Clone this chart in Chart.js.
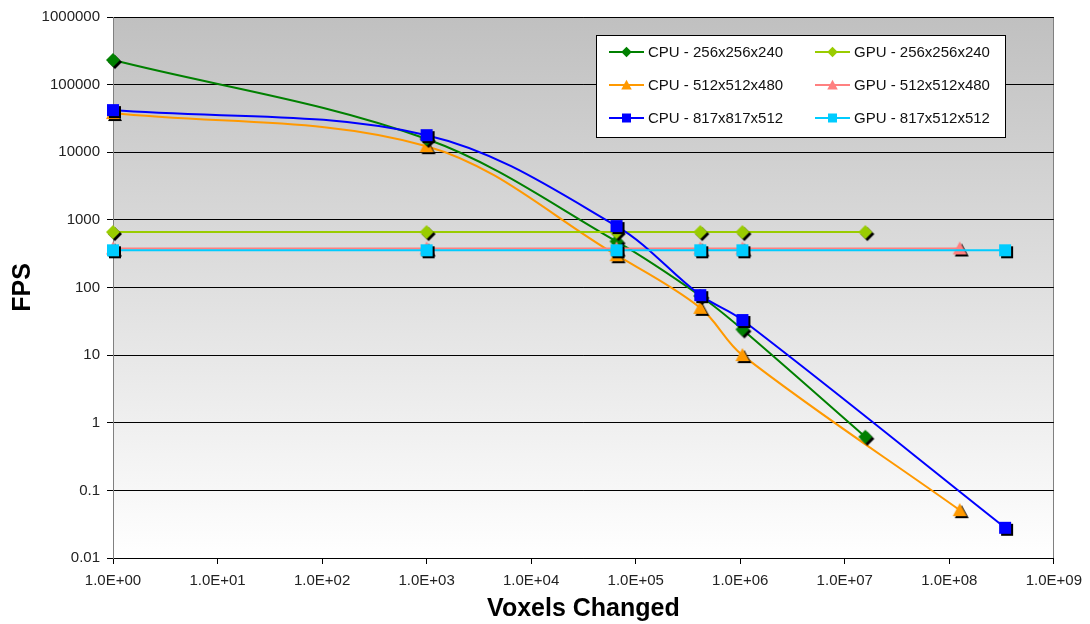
<!DOCTYPE html>
<html>
<head>
<meta charset="utf-8">
<script src="https://cdn.jsdelivr.net/npm/chart.js@4.4.1/dist/chart.umd.min.js"></script>
<style>
  html, body { margin: 0; padding: 0; background: #fff; }
  #wrap { width: 1090px; height: 624px; }
</style>
</head>
<body>
<div id="wrap"><canvas id="fpsChart"></canvas></div>
<script>
// axis ticks
const xTicks = [1, 1e1, 1e2, 1e3, 1e4, 1e5, 1e6, 1e7, 1e8, 1e9];
const xTickLabels = ["1.0E+00", "1.0E+01", "1.0E+02", "1.0E+03", "1.0E+04",
  "1.0E+05", "1.0E+06", "1.0E+07", "1.0E+08", "1.0E+09"];
const yTicks = [0.01, 0.1, 1, 10, 100, 1000, 10000, 100000, 1000000];
const yTickLabels = ["0.01", "0.1", "1", "10", "100", "1000", "10000", "100000", "1000000"];

// voxels changed (x) per volume size
const voxels256 = [1, 1000, 65536, 415000, 1048576, 15728640];
const voxels512 = [1, 1000, 65536, 415000, 1048576, 125829120];
const voxels817 = [1, 1000, 65536, 415000, 1048576, 341754368];

// FPS values
const cpu256 = [231000, 15700, 480, 75, 24, 0.62];
const cpu512 = [38000, 12300, 300, 50, 10, 0.051];
const cpu817 = [42000, 17900, 810, 77, 33, 0.028];
const gpu256 = [660, 660, 660, 660, 660, 660];
const gpu512 = [378, 378, 378, 378, 378, 378];
const gpu817 = [355, 355, 355, 355, 355, 355];

const seriesLabels = ["CPU - 256x256x240", "GPU - 256x256x240", "CPU - 512x512x480",
  "GPU - 512x512x480", "CPU - 817x817x512", "GPU - 817x512x512"];

function drawShape(ctx, shape, cx, cy, s) {
  ctx.beginPath();
  if (shape === "diamond") {
    ctx.moveTo(cx, cy - 7 * s);
    ctx.lineTo(cx + 7 * s, cy);
    ctx.lineTo(cx, cy + 7 * s);
    ctx.lineTo(cx - 7 * s, cy);
  } else if (shape === "triangle") {
    ctx.moveTo(cx, cy - 7 * s);
    ctx.lineTo(cx + 7 * s, cy + 6 * s);
    ctx.lineTo(cx - 7 * s, cy + 6 * s);
  } else {
    ctx.rect(cx - 6 * s, cy - 6 * s, 12 * s, 12 * s);
  }
  ctx.closePath();
  ctx.fill();
}

// marker with the little black drop shadow
function marker(shape, color) {
  const c = document.createElement("canvas");
  c.width = 26;
  c.height = 26;
  const ctx = c.getContext("2d");
  ctx.fillStyle = "#000";
  drawShape(ctx, shape, 15, 15, 1);
  ctx.fillStyle = color;
  drawShape(ctx, shape, 13, 13, 1);
  return c;
}

function pts(xs, ys) {
  return xs.map((x, i) => ({ x: x, y: ys[i] }));
}

function series(label, xs, ys, color, shape, order) {
  return {
    label: label,
    data: pts(xs, ys),
    borderColor: color,
    backgroundColor: color,
    borderWidth: 2,
    tension: 0.35,
    pointStyle: marker(shape, color),
    shape: shape,
    clip: false,
    order: order,
  };
}

const plotBackground = {
  id: "plotBackground",
  beforeDraw(chart) {
    const { ctx, chartArea: a } = chart;
    const g = ctx.createLinearGradient(0, a.top, 0, a.bottom);
    g.addColorStop(0, "#c0c0c0");
    g.addColorStop(1, "#ffffff");
    ctx.save();
    ctx.fillStyle = g;
    ctx.fillRect(a.left, a.top, a.right - a.left, a.bottom - a.top);
    ctx.strokeStyle = "#808080";
    ctx.lineWidth = 1;
    ctx.beginPath();
    ctx.moveTo(Math.round(a.right) - 0.5, a.top);
    ctx.lineTo(Math.round(a.right) - 0.5, a.bottom);
    ctx.stroke();
    ctx.restore();
  },
};

const boxLegend = {
  id: "boxLegend",
  afterDraw(chart) {
    const { ctx, chartArea: a } = chart;
    const left = Math.round(a.right) - 458;
    const top = Math.round(a.top) + 18;
    ctx.save();
    ctx.fillStyle = "#fff";
    ctx.fillRect(left, top, 409, 102);
    ctx.strokeStyle = "#000";
    ctx.lineWidth = 1;
    ctx.strokeRect(left + 0.5, top + 0.5, 409, 102);
    ctx.font = "15px 'Liberation Sans', Arial, sans-serif";
    ctx.textBaseline = "middle";
    const rows = [17, 50, 83];
    const cols = [13, 219];
    chart.data.datasets.forEach((ds, i) => {
      const x = left + cols[i % 2];
      const y = top + rows[Math.floor(i / 2)];
      ctx.strokeStyle = ds.borderColor;
      ctx.lineWidth = 2;
      ctx.beginPath();
      ctx.moveTo(x, y);
      ctx.lineTo(x + 35, y);
      ctx.stroke();
      ctx.fillStyle = ds.borderColor;
      drawShape(ctx, ds.shape, x + 17.5, y, 0.75);
      ctx.fillStyle = "#111";
      ctx.fillText(ds.label, x + 39, y + 1);
    });
    ctx.restore();
  },
};

const font = { family: "'Liberation Sans', Arial, sans-serif", size: 15 };

new Chart(document.getElementById("fpsChart"), {
  type: "line",
  data: {
    datasets: [
      series(seriesLabels[0], voxels256, cpu256, "#008000", "diamond", 4),
      series(seriesLabels[1], voxels256, gpu256, "#99cc00", "diamond", 3),
      series(seriesLabels[2], voxels512, cpu512, "#ff9900", "triangle", 5),
      series(seriesLabels[3], voxels512, gpu512, "#ff8080", "triangle", 2),
      series(seriesLabels[4], voxels817, cpu817, "#0000ff", "square", 1),
      series(seriesLabels[5], voxels817, gpu817, "#00ccff", "square", 0),
    ],
  },
  options: {
    responsive: true,
    maintainAspectRatio: false,
    animation: false,
    layout: { padding: { left: 0, top: 17, right: 35, bottom: 0 } },
    plugins: { legend: { display: false }, tooltip: { enabled: false } },
    scales: {
      x: {
        type: "logarithmic",
        min: 1,
        max: 1e9,
        afterBuildTicks: (s) => { s.ticks = xTicks.map((v) => ({ value: v })); },
        afterFit: (s) => { s.height = 66; },
        ticks: {
          font: font,
          color: "#222",
          padding: 8,
          maxRotation: 0,
          autoSkip: false,
          callback: (v, i) => xTickLabels[i],
        },
        grid: { drawOnChartArea: false, tickLength: 6, tickColor: "#000" },
        border: { color: "#000" },
        title: {
          display: true,
          text: "Voxels Changed",
          font: { family: font.family, size: 25, weight: "bold" },
          color: "#000",
          padding: { top: 0, bottom: 0 },
        },
      },
      y: {
        type: "logarithmic",
        min: 0.01,
        max: 1000000,
        afterBuildTicks: (s) => { s.ticks = yTicks.map((v) => ({ value: v })); },
        afterFit: (s) => { s.width = 113; },
        ticks: {
          font: font,
          color: "#222",
          padding: 7,
          autoSkip: false,
          callback: (v, i) => yTickLabels[i],
        },
        grid: { color: "#000", tickLength: 6, tickColor: "#000" },
        border: { color: "#808080" },
        title: {
          display: true,
          text: "FPS",
          font: { family: font.family, size: 25, weight: "bold" },
          color: "#000",
          padding: { top: 8, bottom: 0 },
        },
      },
    },
  },
  plugins: [plotBackground, boxLegend],
});
</script>
</body>
</html>
